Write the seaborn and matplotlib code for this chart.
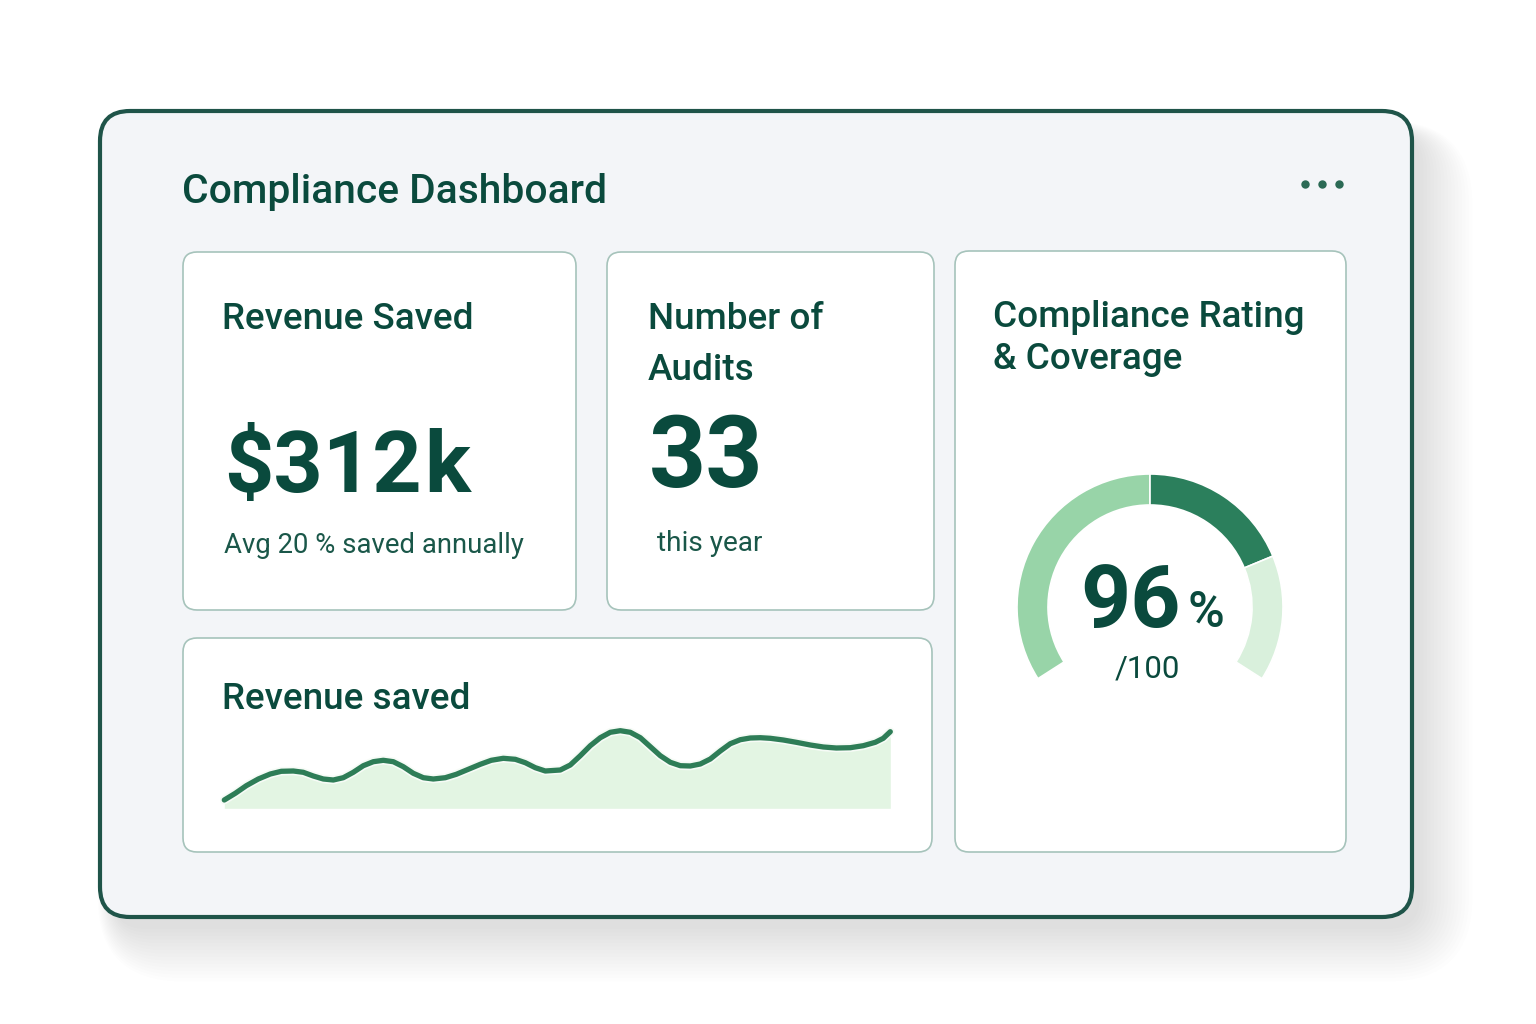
import matplotlib
matplotlib.use("Agg")
import matplotlib.pyplot as plt
from matplotlib.patches import FancyBboxPatch, Circle
import matplotlib.patheffects as pe
import seaborn as sns
import pandas as pd

# ---------------- data ----------------
dashboard_title = "Compliance Dashboard"
card_titles = ["Revenue Saved", "Number of\nAudits", "Compliance Rating\n& Coverage", "Revenue saved"]
revenue_saved_value = "$312"
revenue_saved_unit = "k"
revenue_note = "Avg 20 % saved annually"
audits_value = "33"
audits_note = "this year"
rating_value = "96"
rating_unit = "%"
rating_scale = "/100"

# gauge segments (degrees of the dial): light, dark, pale, hidden gap
gauge_spans = [122.6, 67.5, 55.1, 114.8]
gauge_colors = ["#98d4a8", "#2b7f5c", "#d9f0dc", "none"]

# revenue saved trend (position along the period, value)
trend_t = [0, 11, 22, 34, 46, 57, 69, 79, 89, 99, 109, 119, 129, 139, 149, 159,
           169, 179, 189, 199, 209, 221, 232, 244, 256, 267, 279, 291, 301, 311,
           321, 336, 346, 356, 366, 376, 386, 396, 406, 416, 426, 436, 446, 456,
           466, 476, 486, 496, 506, 516, 526, 536, 546, 559, 572, 586, 599, 612,
           626, 639, 651, 659, 666]
trend_v = [8.3, 15, 22.6, 29.3, 34.3, 37, 37.3, 36, 32.3, 29.3, 28.3, 30.6, 36,
           42.6, 46.6, 48, 46.6, 41.6, 35, 30.6, 29.3, 30.6, 34, 39, 44, 48, 50,
           49, 45.6, 40.6, 37.3, 38.3, 43.3, 52.6, 62.6, 70.6, 76, 77.6, 76, 70.6,
           61.6, 52.6, 46, 42.6, 42.3, 44.3, 49.3, 57.3, 64.6, 68.6, 70.3, 70.6,
           70, 68.3, 66, 63.3, 61.3, 60.3, 60.6, 62.6, 66, 70, 76.6]

# ---------------- style ----------------
sns.set_theme(style="white")
plt.rcParams["font.family"] = ["Roboto", "DejaVu Sans"]

W, H = 1536, 1024
fig = plt.figure(figsize=(W / 100, H / 100), dpi=100)
fig.patch.set_facecolor("white")

bg = fig.add_axes([0, 0, 1, 1])
bg.set_xlim(0, W)
bg.set_ylim(H, 0)
bg.axis("off")

TXT = "#0a4a3d"
TXT2 = "#1a5749"

def rbox(x0, y0, x1, y1, r, fc, ec, lw, z=1, alpha=1.0):
    p = FancyBboxPatch((x0, y0), x1 - x0, y1 - y0,
                       boxstyle=f"round,pad=0,rounding_size={r}",
                       fc=fc, ec=ec, lw=lw, zorder=z, alpha=alpha)
    bg.add_patch(p)
    return p

# soft shadow
for i in range(16):
    g = 2 + i * 3.5
    rbox(100 + 14 - g * 0.3, 110 + 22 - g * 0.2, 1412 + 6 + g, 917 + 10 + g, 30 + g,
         "#000000", "none", 0, z=0.5, alpha=0.009)

# outer frame
rbox(100, 111, 1412, 917, 30, "#f3f5f8", "#1f5449", 3.0, z=1)

# cards
card_ec = "#a6c3bb"
rbox(183, 252, 576, 610, 14, "white", card_ec, 1.2, z=2)
rbox(607, 252, 934, 610, 14, "white", card_ec, 1.2, z=2)
rbox(955, 251, 1346, 852, 14, "white", card_ec, 1.2, z=2)
rbox(183, 638, 932, 852, 14, "white", card_ec, 1.2, z=2)

# menu dots
for cx in (1305.5, 1322.5, 1339.5):
    bg.add_patch(Circle((cx, 184.5), 4.2, fc="#2b6a55", ec="none", zorder=3))

# texts
def t(x, y, s, size, weight="normal", color=TXT, ha="left"):
    bg.text(x, y, s, fontsize=size, fontweight=weight, color=color,
            va="baseline", ha=ha, zorder=5)

CT = 26.6
t(182, 203, dashboard_title, 29.3, "medium")

t(222, 329, card_titles[0], CT, "medium")
t(224, 492, revenue_saved_value, 62, "bold")
t(424, 492, revenue_saved_unit, 62, "bold")
t(224, 553, revenue_note, 19.8, color=TXT2)

num_lines = card_titles[1].split("\n")
t(648, 329, num_lines[0], CT, "medium")
t(648, 380, num_lines[1], CT, "medium")
t(649, 487, audits_value, 72, "bold")
t(657, 551, audits_note, 20.2, color=TXT2)

cr_lines = card_titles[2].split("\n")
t(993, 327, cr_lines[0], CT, "medium")
t(993, 369, cr_lines[1], CT, "medium")

t(222, 709, card_titles[3], CT, "medium")

t(1181, 627, rating_value, 63, "bold", ha="right")
t(1187, 627, rating_unit, 36, "medium")
t(1147, 677, rating_scale, 22.5, ha="center")

# ---------------- gauge ----------------
def fig_axes(x0, y0, x1, y1):
    return fig.add_axes([x0 / W, 1 - y1 / H, (x1 - x0) / W, (y1 - y0) / H])

gcx, gcy, R = 1150, 607, 133
half = 150
gax = fig_axes(gcx - half, gcy - half, gcx + half, gcy + half)
wedges, _ = gax.pie(gauge_spans, colors=gauge_colors, startangle=212.6,
                    counterclock=False, radius=R,
                    wedgeprops=dict(width=31, edgecolor="white", linewidth=1.2))
wedges[-1].set_edgecolor("none")
gax.set_xlim(-half, half)
gax.set_ylim(-half, half)
gax.set_aspect("equal")
gax.axis("off")
gax.set_zorder(4)

# ---------------- trend line ----------------
lax = fig_axes(224.3, 725, 890.3, 808.3)
df = pd.DataFrame({"t": trend_t, "v": trend_v})
lax.fill_between(df["t"], df["v"], 0, color="#e3f5e3", lw=0)
sns.lineplot(data=df, x="t", y="v", ax=lax, color="#2e7d57", lw=3.8,
             solid_capstyle="round", solid_joinstyle="round", clip_on=False,
             path_effects=[pe.Stroke(linewidth=6.2, foreground="#f6fbf6"), pe.Normal()])
lax.set_xlim(0, 666)
lax.set_ylim(0, 83.3)
lax.axis("off")
lax.patch.set_alpha(0)
lax.set_zorder(4)

fig.savefig("out.png", dpi=100, facecolor="white")
